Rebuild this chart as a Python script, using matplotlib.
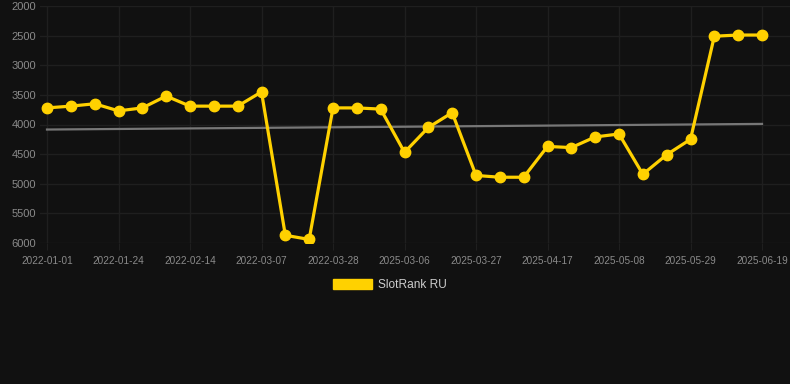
import matplotlib
matplotlib.use("Agg")
import matplotlib.pyplot as plt
from matplotlib.patches import Patch

plt.rcParams['font.family'] = ['Liberation Sans', 'DejaVu Sans']

# rank per observation (lower is better, axis inverted)
ranks = [3720, 3690, 3650, 3770, 3720, 3520, 3690, 3690, 3690, 3450,
         5870, 5940, 3720, 3720, 3740, 4470, 4050, 3800, 4860, 4890,
         4890, 4370, 4390, 4210, 4160, 4840, 4510, 4250, 2510, 2490, 2490]
tick_labels = ['2022-01-01', '2022-01-24', '2022-02-14', '2022-03-07', '2022-03-28',
               '2025-03-06', '2025-03-27', '2025-04-17', '2025-05-08', '2025-05-29',
               '2025-06-19']
trend_ends = [4085, 3990]
y_ticks = [2000, 2500, 3000, 3500, 4000, 4500, 5000, 5500, 6000]

bg = '#111111'
grid = '#1f1f1f'
yellow = '#ffd100'

fig = plt.figure(figsize=(7.9, 3.84), dpi=100, facecolor=bg)
ax = fig.add_axes([40 / 790, 1 - 243 / 384, 750 / 790, 237 / 384], facecolor=bg)

xs = list(range(len(ranks)))
ax.plot([xs[0], xs[-1]], trend_ends, color='#777777', lw=1.6, zorder=2)
ax.plot(xs, ranks, color=yellow, lw=2.3, marker='o', ms=7.5, zorder=3)

step = (762 - 47) / 30
ax.set_xlim(-7 / step, 30 + 28 / step)
ax.set_ylim(6000, 2000)

ax.set_xticks(xs[::3])
ax.set_xticklabels(tick_labels)
ax.set_yticks(y_ticks)
ax.grid(True, color=grid, lw=1.0)
ax.set_axisbelow(True)
ax.tick_params(axis='x', colors=grid, labelcolor='#8a8a8a', labelsize=7.2, length=5, pad=4)
ax.tick_params(axis='y', colors=grid, labelcolor='#8a8a8a', labelsize=8, length=0, pad=3)
for s in ax.spines.values():
    s.set_visible(False)

handle = Patch(facecolor=yellow, edgecolor=yellow)
fig.legend([handle], ['SlotRank RU'], loc='center', bbox_to_anchor=(390 / 790, 1 - 285 / 384),
           frameon=False, fontsize=8.6, labelcolor='#cccccc', handlelength=3.3,
           handleheight=0.9, handletextpad=0.5)

fig.savefig('out.png', dpi=100, facecolor=bg)
